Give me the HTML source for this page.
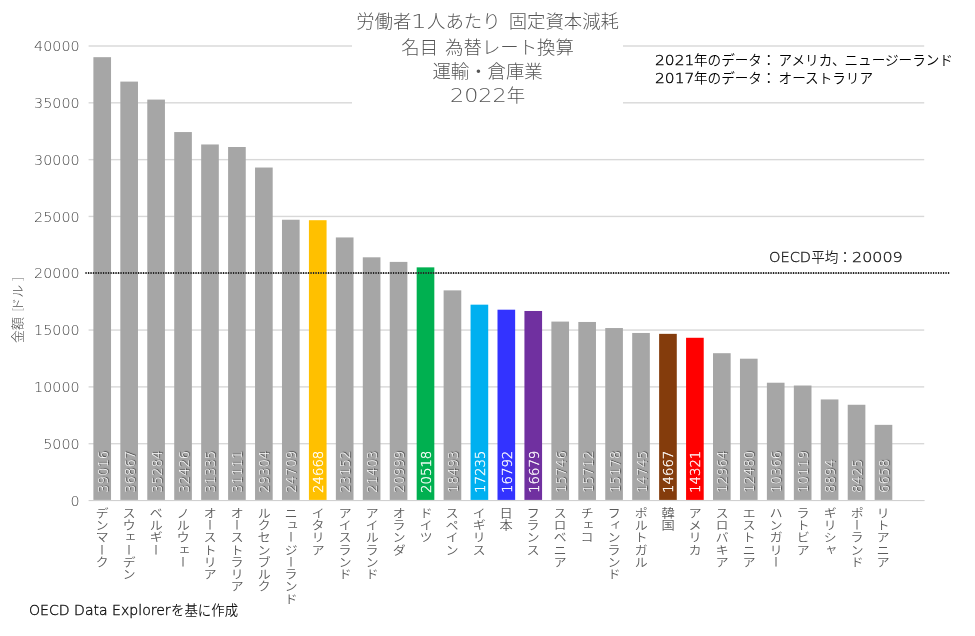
<!DOCTYPE html>
<html lang="ja"><head><meta charset="utf-8"><title>労働者1人あたり 固定資本減耗</title>
<style>
html,body{margin:0;padding:0;background:#fff;}
body{width:975px;height:636px;position:relative;overflow:hidden;font-family:"Liberation Sans","Noto Sans CJK JP",sans-serif;}
.abs,.g,.b,.yl,.xl,.v{position:absolute;}
.g{left:88.6px;width:835.4px;height:2px;background:#e0e0e0;}
.b{width:17.7px;background:#a6a6a6;}
.yl{left:20px;width:59.6px;text-align:right;font-family:"DejaVu Sans","Liberation Sans",sans-serif;font-weight:200;font-size:13.7px;line-height:16px;color:#444;white-space:nowrap;transform-origin:100% 50%;transform:scaleX(1.045);}
.xl{top:506.5px;width:12px;writing-mode:vertical-rl;font-family:"Noto Sans CJK JP","Liberation Sans",sans-serif;font-weight:350;font-size:12.25px;line-height:12px;color:#5c5c5c;white-space:nowrap;transform:scaleX(1.08);}
.v{top:493.2px;height:14px;line-height:14px;font-family:"DejaVu Sans","Liberation Sans",sans-serif;font-weight:200;font-size:13.3px;color:#fff;white-space:nowrap;transform-origin:0 0;transform:rotate(-90deg);text-shadow:0.6px 0.6px 0.8px rgba(0,0,0,.65);}
.v.c{text-shadow:none;-webkit-text-stroke:0.3px #fff;}
.n,.m{display:inline-block;transform-origin:0 60%;font-family:"DejaVu Sans","Liberation Sans",sans-serif;font-weight:200;}
.m{font-weight:200;-webkit-text-stroke:0.35px currentColor;}
.title{left:352px;top:8px;width:271.2px;height:99px;background:#fff;text-align:center;font-family:"Noto Sans CJK JP","Liberation Sans",sans-serif;font-weight:300;font-size:18.4px;line-height:24px;color:#555;white-space:nowrap;}
.note{left:654.6px;top:51px;font-family:"Noto Sans CJK JP","Liberation Sans",sans-serif;font-weight:350;font-size:13.6px;line-height:17.1px;color:#000;white-space:nowrap;}
.avg{left:769.2px;top:246.4px;font-family:"Noto Sans CJK JP","Liberation Sans",sans-serif;font-weight:350;font-size:13.6px;line-height:20px;color:#222;white-space:nowrap;}
.dot{left:85.5px;top:272px;width:864px;height:2px;background:repeating-linear-gradient(90deg,#2b2b2b 0,#2b2b2b 1.4px,rgba(0,0,0,.12) 1.4px,rgba(0,0,0,.12) 2.5px);}
.yt{left:9.2px;top:343.2px;height:15px;line-height:15px;font-family:"Noto Sans CJK JP","Liberation Sans",sans-serif;font-weight:300;font-size:12.9px;color:#555;white-space:nowrap;transform-origin:0 0;transform:rotate(-90deg);}
.yt i{font-style:normal;color:#999;}
.foot{left:29.4px;top:599px;font-family:"Noto Sans CJK JP","Liberation Sans",sans-serif;font-weight:350;font-size:13.4px;line-height:20px;color:#111;white-space:nowrap;}
</style></head><body>

<svg class="abs" style="left:0;top:0" width="975" height="636" viewBox="0 0 975 636"><rect x="88.6" y="442.99" width="835.6" height="1.4" fill="#d8d8d8"/><rect x="88.6" y="386.18" width="835.6" height="1.4" fill="#d8d8d8"/><rect x="88.6" y="329.36" width="835.6" height="1.4" fill="#d8d8d8"/><rect x="88.6" y="272.55" width="835.6" height="1.4" fill="#d8d8d8"/><rect x="88.6" y="215.74" width="835.6" height="1.4" fill="#d8d8d8"/><rect x="88.6" y="158.93" width="835.6" height="1.4" fill="#d8d8d8"/><rect x="88.6" y="102.11" width="835.6" height="1.4" fill="#d8d8d8"/><rect x="88.6" y="45.30" width="835.6" height="1.4" fill="#d8d8d8"/><rect x="88.6" y="500.00" width="836" height="1.1" fill="#d0d0d0"/><rect x="93.39" y="57.18" width="17.65" height="442.72" fill="#a6a6a6"/><rect x="120.33" y="81.60" width="17.65" height="418.30" fill="#a6a6a6"/><rect x="147.28" y="99.59" width="17.65" height="400.31" fill="#a6a6a6"/><rect x="174.22" y="132.06" width="17.65" height="367.84" fill="#a6a6a6"/><rect x="201.16" y="144.46" width="17.65" height="355.44" fill="#a6a6a6"/><rect x="228.10" y="147.00" width="17.65" height="352.90" fill="#a6a6a6"/><rect x="255.04" y="167.53" width="17.65" height="332.37" fill="#a6a6a6"/><rect x="281.98" y="219.74" width="17.65" height="280.16" fill="#a6a6a6"/><rect x="308.92" y="220.21" width="17.65" height="279.69" fill="#ffc000"/><rect x="335.86" y="237.44" width="17.65" height="262.46" fill="#a6a6a6"/><rect x="362.80" y="257.31" width="17.65" height="242.59" fill="#a6a6a6"/><rect x="389.74" y="261.90" width="17.65" height="238.00" fill="#a6a6a6"/><rect x="416.68" y="267.36" width="17.65" height="232.54" fill="#00b050"/><rect x="443.62" y="290.37" width="17.65" height="209.53" fill="#a6a6a6"/><rect x="470.56" y="304.67" width="17.65" height="195.23" fill="#00b0f0"/><rect x="497.50" y="309.70" width="17.65" height="190.20" fill="#3333ff"/><rect x="524.43" y="310.98" width="17.65" height="188.92" fill="#7030a0"/><rect x="551.38" y="321.59" width="17.65" height="178.31" fill="#a6a6a6"/><rect x="578.32" y="321.97" width="17.65" height="177.93" fill="#a6a6a6"/><rect x="605.25" y="328.04" width="17.65" height="171.86" fill="#a6a6a6"/><rect x="632.19" y="332.96" width="17.65" height="166.94" fill="#a6a6a6"/><rect x="659.13" y="333.85" width="17.65" height="166.05" fill="#843c0c"/><rect x="686.07" y="337.78" width="17.65" height="162.12" fill="#ff0000"/><rect x="713.01" y="353.20" width="17.65" height="146.70" fill="#a6a6a6"/><rect x="739.96" y="358.70" width="17.65" height="141.20" fill="#a6a6a6"/><rect x="766.89" y="382.72" width="17.65" height="117.18" fill="#a6a6a6"/><rect x="793.84" y="385.52" width="17.65" height="114.38" fill="#a6a6a6"/><rect x="820.77" y="399.44" width="17.65" height="100.46" fill="#a6a6a6"/><rect x="847.72" y="404.77" width="17.65" height="95.13" fill="#a6a6a6"/><rect x="874.65" y="424.85" width="17.65" height="75.05" fill="#a6a6a6"/></svg>
<div class="yl" style="top:492.70px">0</div>
<div class="yl" style="top:435.89px">5000</div>
<div class="yl" style="top:379.07px">10000</div>
<div class="yl" style="top:322.26px">15000</div>
<div class="yl" style="top:265.45px">20000</div>
<div class="yl" style="top:208.64px">25000</div>
<div class="yl" style="top:151.82px">30000</div>
<div class="yl" style="top:95.01px">35000</div>
<div class="yl" style="top:38.20px">40000</div>
<svg class="abs" style="left:0;top:262px" width="975" height="22" viewBox="0 262 975 22"><line x1="85.4" y1="272.95" x2="949.4" y2="272.95" stroke="#262626" stroke-width="2.1" stroke-dasharray="1.3 1.2"/></svg>
<div class="v" style="left:96.72px">39016</div>
<div class="v" style="left:123.66px">36867</div>
<div class="v" style="left:150.60px">35284</div>
<div class="v" style="left:177.54px">32426</div>
<div class="v" style="left:204.48px">31335</div>
<div class="v" style="left:231.42px">31111</div>
<div class="v" style="left:258.36px">29304</div>
<div class="v" style="left:285.30px">24709</div>
<div class="v c" style="left:312.24px">24668</div>
<div class="v" style="left:339.18px">23152</div>
<div class="v" style="left:366.12px">21403</div>
<div class="v" style="left:393.06px">20999</div>
<div class="v c" style="left:420.00px">20518</div>
<div class="v" style="left:446.94px">18493</div>
<div class="v c" style="left:473.88px">17235</div>
<div class="v c" style="left:500.82px">16792</div>
<div class="v c" style="left:527.76px">16679</div>
<div class="v" style="left:554.70px">15746</div>
<div class="v" style="left:581.64px">15712</div>
<div class="v" style="left:608.58px">15178</div>
<div class="v" style="left:635.52px">14745</div>
<div class="v c" style="left:662.46px">14667</div>
<div class="v c" style="left:689.40px">14321</div>
<div class="v" style="left:716.34px">12964</div>
<div class="v" style="left:743.28px">12480</div>
<div class="v" style="left:770.22px">10366</div>
<div class="v" style="left:797.16px">10119</div>
<div class="v" style="left:824.10px">8894</div>
<div class="v" style="left:851.04px">8425</div>
<div class="v" style="left:877.98px">6658</div>
<div class="xl" style="left:96.22px">デンマーク</div>
<div class="xl" style="left:123.16px">スウェーデン</div>
<div class="xl" style="left:150.10px">ベルギー</div>
<div class="xl" style="left:177.04px">ノルウェー</div>
<div class="xl" style="left:203.98px">オーストリア</div>
<div class="xl" style="left:230.92px">オーストラリア</div>
<div class="xl" style="left:257.86px">ルクセンブルク</div>
<div class="xl" style="left:284.80px">ニュージーランド</div>
<div class="xl" style="left:311.74px">イタリア</div>
<div class="xl" style="left:338.68px">アイスランド</div>
<div class="xl" style="left:365.62px">アイルランド</div>
<div class="xl" style="left:392.56px">オランダ</div>
<div class="xl" style="left:419.50px">ドイツ</div>
<div class="xl" style="left:446.44px">スペイン</div>
<div class="xl" style="left:473.38px">イギリス</div>
<div class="xl" style="left:500.32px">日本</div>
<div class="xl" style="left:527.26px">フランス</div>
<div class="xl" style="left:554.20px">スロベニア</div>
<div class="xl" style="left:581.14px">チェコ</div>
<div class="xl" style="left:608.08px">フィンランド</div>
<div class="xl" style="left:635.02px">ポルトガル</div>
<div class="xl" style="left:661.96px">韓国</div>
<div class="xl" style="left:688.90px">アメリカ</div>
<div class="xl" style="left:715.84px">スロバキア</div>
<div class="xl" style="left:742.78px">エストニア</div>
<div class="xl" style="left:769.72px">ハンガリー</div>
<div class="xl" style="left:796.66px">ラトビア</div>
<div class="xl" style="left:823.60px">ギリシャ</div>
<div class="xl" style="left:850.54px">ポーランド</div>
<div class="xl" style="left:877.48px">リトアニア</div>
<div class="abs title">労働者<span class="n" style="transform:scale(1.341,1.050);margin-right:3.99px">1</span>人あたり<span style="display:inline-block;width:8px"></span>固定資本減耗<br>名目<span style="display:inline-block;width:7px"></span>為替レート換算<br>運輸・倉庫業<br><span class="n" style="transform:scale(1.209,1.050);margin-right:9.77px">2022</span>年</div>
<div class="abs note"><span class="m" style="transform:scale(1.138,1.000);margin-right:4.79px">2021</span>年のデータ：<span style="display:inline-block;width:3px"></span>アメリカ、<span style="display:inline-block;margin-left:-1.1px"></span>ニュージーランド<br><span class="m" style="transform:scale(1.138,1.000);margin-right:4.79px">2017</span>年のデータ：<span style="display:inline-block;width:3px"></span>オーストラリア</div>
<div class="abs avg"><span class="m" style="transform:scale(1.070,1.000);margin-right:2.73px">OECD</span>平均：<span style="display:inline-block;width:0.5px"></span><span class="m" style="transform:scale(1.174,1.000);margin-right:7.54px">20009</span></div>
<div class="abs yt">金額<span style="display:inline-block;width:5.5px"></span><i>[</i><span style="display:inline-block;margin-left:-3px"></span>ドル<span style="display:inline-block;width:3.8px"></span><i>]</i></div>
<div class="abs foot"><span class="m" style="transform:scale(1.050,1.000);margin-right:6.80px">OECD Data Explorer</span>を基に作成</div>
</body></html>
